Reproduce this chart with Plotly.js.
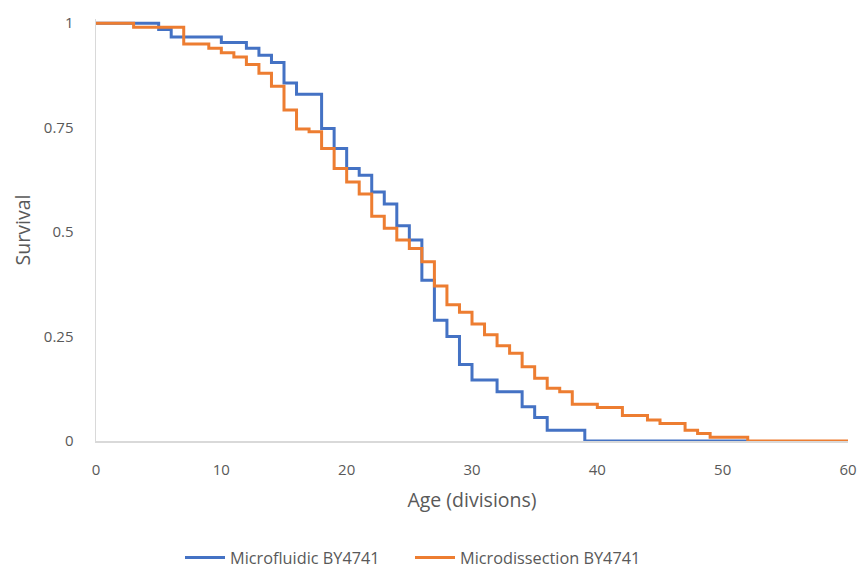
<!DOCTYPE html>
<html>
<head>
<meta charset="utf-8">
<script src="https://cdn.plot.ly/plotly-3.0.1.min.js"></script>
<style>html,body{margin:0;padding:0;background:#fff;}#chart{width:863px;height:571px;}</style>
</head>
<body>
<div id="chart"></div>
<script>
// Microfluidic BY4741 (step drops: age, survival after drop)
const microfluidicAge = [0,5,6,10,12,13,14,15,16,18,19,20,21,22,23,24,25,26,27,28,29,30,32,34,35,36,39,52];
const microfluidicSurv = [1,0.985,0.967,0.954,0.94,0.923,0.906,0.857,0.83,0.748,0.70,0.652,0.636,0.596,0.567,0.515,0.481,0.385,0.289,0.25,0.183,0.146,0.118,0.082,0.056,0.026,0,0];

// Microdissection BY4741
const microdissectionAge = [0,3,7,9,10,11,12,13,14,15,16,17,18,19,20,21,22,23,24,25,26,27,28,29,30,31,32,33,34,35,36,37,38,40,42,44,45,47,48,49,52,60];
const microdissectionSurv = [1,0.99,0.95,0.94,0.929,0.919,0.901,0.88,0.849,0.792,0.747,0.74,0.70,0.652,0.620,0.591,0.538,0.509,0.481,0.461,0.429,0.371,0.326,0.308,0.28,0.254,0.228,0.21,0.178,0.15,0.126,0.118,0.088,0.08,0.061,0.05,0.042,0.026,0.018,0.009,0,0];

const xTicks = [0,10,20,30,40,50,60];
const yTicks = [0,0.25,0.5,0.75,1];
const yTickText = ["0","0.25","0.5","0.75","1"];

const FONT = "'Open Sans', 'Noto Sans', sans-serif";
const TXT = "#595959";

const traces = [
  {x: microfluidicAge, y: microfluidicSurv, name: "Microfluidic BY4741", mode: "lines",
   line: {shape: "hv", color: "#4472C4", width: 3}},
  {x: microdissectionAge, y: microdissectionSurv, name: "Microdissection BY4741", mode: "lines",
   line: {shape: "hv", color: "#ED7D31", width: 3}}
];

const layout = {
  width: 863, height: 571,
  margin: {l: 96, r: 15, t: 19, b: 130, pad: 0},
  paper_bgcolor: "#fff", plot_bgcolor: "#fff",
  font: {family: FONT, size: 14, color: TXT},
  showlegend: true,
  legend: {orientation: "h", xref: "container", yref: "container", x: 180/863, xanchor: "left",
           y: 0.023, yanchor: "middle", itemwidth: 40, entrywidth: 175,
           font: {family: FONT, size: 16.3, color: TXT}},
  xaxis: {range: [0, 60], tickvals: xTicks, ticktext: xTicks.map(String), showgrid: false, zeroline: false,
          showline: true, linecolor: "#d9d9d9", linewidth: 1.5, ticks: "", ticklabelstandoff: 14,
          tickfont: {family: FONT, size: 15, color: TXT},
          title: {text: "Age (divisions)", font: {family: FONT, size: 19.5, color: TXT}, standoff: 16}},
  yaxis: {range: [0, 1.01], tickvals: yTicks, ticktext: yTickText, showgrid: false, zeroline: false,
          showline: true, linecolor: "#d9d9d9", linewidth: 1.5, ticks: "", ticklabelstandoff: 18,
          tickfont: {family: FONT, size: 15, color: TXT},
          title: {text: "Survival", font: {family: FONT, size: 19.5, color: TXT}, standoff: 8}}
};

Plotly.newPlot("chart", traces, layout, {displayModeBar: false, staticPlot: true});
</script>
</body>
</html>
